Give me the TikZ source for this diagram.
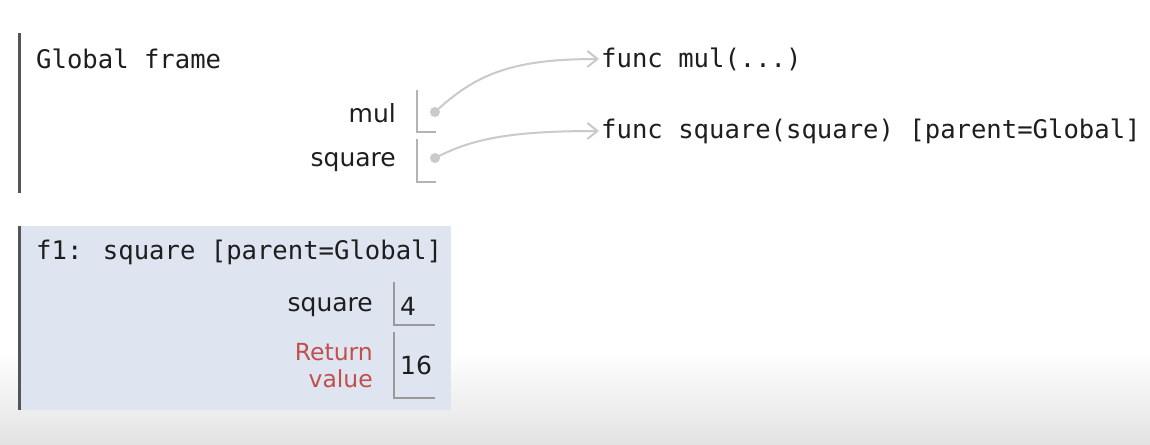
\documentclass[tikz,border=0pt]{standalone}
\usepackage{fontspec}
\setmainfont{DejaVu Sans}
\newfontfamily\monof{DejaVu Sans Mono}
\usetikzlibrary{arrows.meta}
\definecolor{txt}{HTML}{1E1E1E}
\definecolor{framefill}{HTML}{DFE5F0}
\definecolor{arrowc}{HTML}{CACACA}
\definecolor{retred}{HTML}{C0504D}
\definecolor{bgbot}{HTML}{E3E3E3}
\definecolor{barc}{HTML}{555555}
\definecolor{brkc}{HTML}{B4B4B4}
\definecolor{brkf}{HTML}{9A9A9A}
\begin{document}
\begin{tikzpicture}[x=1pt,y=-1pt,
  mono/.style={font=\monof\fontsize{25.6}{30}\selectfont, text=txt, inner sep=0pt, anchor=west},
  lbl/.style={font=\fontsize{25}{29}\selectfont, text=txt, inner sep=0pt, anchor=east},
  val/.style={font=\fontsize{25}{29}\selectfont, text=txt, inner sep=0pt, anchor=west},
  framebar/.style={line width=3pt, barc},
  brk/.style={line width=1.6pt, brkc},
  brkb/.style={line width=1.6pt, brkf},
  dotst/.style={circle, fill=arrowc, inner sep=0pt, minimum size=10pt},
  ptr/.style={line width=2pt, arrowc, -{Straight Barb[length=10pt,width=16pt,line width=2pt]}}
]
\useasboundingbox (0,0) rectangle (1150,444);
\fill[white] (0,0) rectangle (1150,444);
\shade[top color=white, bottom color=bgbot] (0,350) rectangle (1150,444);

% Global frame
\draw[framebar] (19.5,33) -- (19.5,193);
\node[mono] (gtitle) at (36,59) {Global frame};
\node[lbl] (mulname) at (396,113) {mul};
\node[lbl] (sqname) at (396,162) {square};
\draw[brk] (417,90) -- (417,132) -- (436,132);
\draw[brk] (417,139) -- (417,182) -- (436,182);
\node[dotst] (mdot) at (435,112) {};
\node[dotst] (sdot) at (435,158) {};

\node[mono] (mulfn) at (601,59) {func mul(...)};
\node[mono] (sqfn) at (601,131) {func square(square) [parent=Global]};

\draw[ptr] (mdot.center) .. controls (475,75) and (510,59) .. ([xshift=-2pt]mulfn.west);
\draw[ptr] (sdot.center) .. controls (470,140) and (505,131) .. ([xshift=-2pt]sqfn.west);

% f1 frame
\fill[framefill] (19,226) rectangle (451,410);
\draw[framebar] (19.5,226) -- (19.5,410);
\node[mono] (ftitle) at (36,252) {f1: square [parent=Global]};
\node[lbl] (fsq) at (373,307) {square};
\draw[brkb] (394,282) -- (394,325) -- (435,325);
\node[val] (v4) at (400,306) {4};
\node[lbl, align=right, text=retred, font=\fontsize{23.5}{27}\selectfont] (ret) at (373,366) {Return\\value};
\draw[brkb] (394,332) -- (394,398) -- (435,398);
\node[val] (v16) at (400,365) {16};
\end{tikzpicture}
\end{document}
